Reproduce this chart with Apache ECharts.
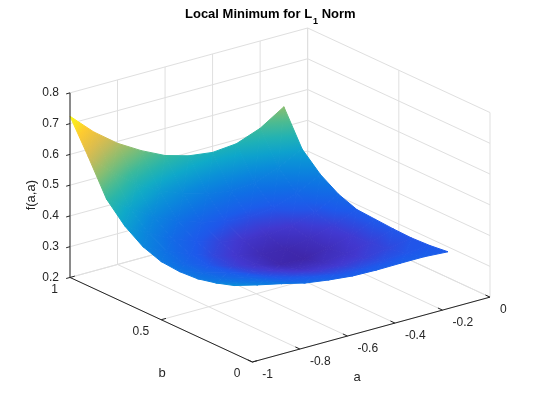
<!DOCTYPE html>
<html>
<head>
<meta charset="utf-8">
<script src="https://cdn.jsdelivr.net/npm/echarts@6.0.0/dist/echarts.min.js"></script>
<style>
html,body{margin:0;padding:0;background:#ffffff;}
#chart{width:540px;height:405px;}
</style>
</head>
<body>
<div id="chart"></div>
<script>
// ---------------- data ----------------
const aValues = [-1.0, -0.9, -0.8, -0.7, -0.6, -0.5, -0.4, -0.3, -0.2, -0.1];
const bValues = [0.1, 0.2, 0.3, 0.4, 0.5, 0.6, 0.7, 0.8, 0.9, 1.0];
// surface heights, one row per b value, columns follow aValues
const fAtB01 = [0.421, 0.402, 0.385, 0.366, 0.355, 0.347, 0.345, 0.346, 0.346, 0.341];
const fAtB02 = [0.402, 0.384, 0.368, 0.348, 0.336, 0.327, 0.325, 0.327, 0.331, 0.334];
const fAtB03 = [0.388, 0.369, 0.352, 0.332, 0.318, 0.307, 0.305, 0.309, 0.318, 0.331];
const fAtB04 = [0.384, 0.361, 0.340, 0.319, 0.303, 0.289, 0.287, 0.294, 0.309, 0.333];
const fAtB05 = [0.389, 0.360, 0.334, 0.312, 0.294, 0.275, 0.271, 0.285, 0.305, 0.337];
const fAtB06 = [0.410, 0.374, 0.343, 0.317, 0.298, 0.280, 0.276, 0.288, 0.310, 0.341];
const fAtB07 = [0.450, 0.405, 0.365, 0.337, 0.315, 0.298, 0.292, 0.302, 0.326, 0.363];
const fAtB08 = [0.510, 0.457, 0.410, 0.375, 0.350, 0.332, 0.325, 0.333, 0.360, 0.400];
const fAtB09 = [0.620, 0.550, 0.490, 0.445, 0.415, 0.393, 0.383, 0.388, 0.415, 0.455];
const fAtB10 = [0.724, 0.652, 0.594, 0.549, 0.512, 0.490, 0.480, 0.487, 0.516, 0.565];
const fRows = [fAtB01, fAtB02, fAtB03, fAtB04, fAtB05, fAtB06, fAtB07, fAtB08, fAtB09, fAtB10];

const aTicks = [-1, -0.8, -0.6, -0.4, -0.2, 0];
const aTickLabels = ['-1', '-0.8', '-0.6', '-0.4', '-0.2', '0'];
const bTicks = [0, 0.5, 1];
const bTickLabels = ['0', '0.5', '1'];
const zTicks = [0.2, 0.3, 0.4, 0.5, 0.6, 0.7, 0.8];
const zTickLabels = ['0.2', '0.3', '0.4', '0.5', '0.6', '0.7', '0.8'];
const titleMain = 'Local Minimum for L';
const titleSub = '1';
const titleEnd = ' Norm';
const aName = 'a';
const bName = 'b';
const zName = 'f(a,a)';

// ---------------- view (MATLAB default 3-D view) ----------------
const AZ = -37.5 * Math.PI / 180, EL = 30 * Math.PI / 180;
const aLim = [aTicks[0], aTicks[aTicks.length - 1]];
const bLim = [bTicks[0], bTicks[bTicks.length - 1]];
const zLim = [zTicks[0], zTicks[zTicks.length - 1]];
function nrm(v, l) { return (v - l[0]) / (l[1] - l[0]); }
function proj(a, b, z) {
  const x = nrm(a, aLim), y = nrm(b, bLim), w = nrm(z, zLim);
  return [Math.cos(AZ) * x + Math.sin(AZ) * y,
          -Math.sin(AZ) * Math.sin(EL) * x + Math.cos(AZ) * Math.sin(EL) * y + Math.cos(EL) * w];
}
function depth(a, b, z) {
  const x = nrm(a, aLim), y = nrm(b, bLim), w = nrm(z, zLim);
  return -Math.sin(AZ) * Math.cos(EL) * x + Math.cos(AZ) * Math.cos(EL) * y - Math.sin(EL) * w;
}
let Xmin = Infinity, Xmax = -Infinity, Ymin = Infinity, Ymax = -Infinity;
aLim.forEach(a => bLim.forEach(b => zLim.forEach(z => {
  const p = proj(a, b, z);
  Xmin = Math.min(Xmin, p[0]); Xmax = Math.max(Xmax, p[0]);
  Ymin = Math.min(Ymin, p[1]); Ymax = Math.max(Ymax, p[1]);
})));

// ---------------- colormap ----------------
const PARULA = [
  [0.000, 62, 38, 168], [0.070, 66, 56, 208], [0.140, 30, 88, 235], [0.230, 15, 112, 228],
  [0.330, 10, 140, 218], [0.430, 15, 170, 200], [0.530, 50, 185, 160], [0.640, 130, 190, 115],
  [0.760, 210, 186, 85], [0.880, 253, 200, 50], [1.000, 249, 250, 20]
];
function parula(t) {
  t = Math.max(0, Math.min(1, t));
  for (let k = 1; k < PARULA.length; k++) {
    if (t <= PARULA[k][0]) {
      const p = PARULA[k - 1], q = PARULA[k], u = (t - p[0]) / (q[0] - p[0]);
      return 'rgb(' + [1, 2, 3].map(c => Math.round(p[c] + (q[c] - p[c]) * u)).join(',') + ')';
    }
  }
  const l = PARULA[PARULA.length - 1];
  return 'rgb(' + l[1] + ',' + l[2] + ',' + l[3] + ')';
}
let fMin = Infinity, fMax = -Infinity;
fRows.forEach(r => r.forEach(v => { fMin = Math.min(fMin, v); fMax = Math.max(fMax, v); }));
function colorOf(v) { return parula((v - fMin) / (fMax - fMin)); }

// ---------------- surface triangles (painter's order) ----------------
const tris = [];
for (let j = 0; j < bValues.length - 1; j++) {
  for (let i = 0; i < aValues.length - 1; i++) {
    const c00 = [i, j], c10 = [i + 1, j], c11 = [i + 1, j + 1], c01 = [i, j + 1];
    [[c00, c10, c11], [c00, c11, c01]].forEach(t => {
      let d = 0, X = 0, Y = 0;
      t.forEach(([ii, jj]) => {
        const z = fRows[jj][ii];
        d += depth(aValues[ii], bValues[jj], z);
        const p = proj(aValues[ii], bValues[jj], z);
        X += p[0]; Y += p[1];
      });
      tris.push({ v: t, d: d / 3, X: X / 3, Y: Y / 3 });
    });
  }
}
tris.sort((p, q) => q.d - p.d);

function renderTri(params, api) {
  const t = tris[api.value(2)];
  const P = t.v.map(([ii, jj]) => api.coord(proj(aValues[ii], bValues[jj], fRows[jj][ii])));
  const V = t.v.map(([ii, jj]) => fRows[jj][ii]);
  const e1 = [P[1][0] - P[0][0], P[1][1] - P[0][1]];
  const e2 = [P[2][0] - P[0][0], P[2][1] - P[0][1]];
  const d1 = V[1] - V[0], d2 = V[2] - V[0];
  const det = e1[0] * e2[1] - e1[1] * e2[0];
  let fill;
  if (Math.abs(det) < 1e-6) {
    fill = colorOf((V[0] + V[1] + V[2]) / 3);
  } else {
    const gx = (e2[1] * d1 - e1[1] * d2) / det;
    const gy = (-e2[0] * d1 + e1[0] * d2) / det;
    const gm = Math.hypot(gx, gy);
    if (gm < 1e-9) {
      fill = colorOf(V[0]);
    } else {
      const n = [gx / gm, gy / gm];
      const s = P.map(p => n[0] * (p[0] - P[0][0]) + n[1] * (p[1] - P[0][1]));
      const smin = Math.min(...s), smax = Math.max(...s);
      const v0 = V[0] + gm * smin, v1 = V[0] + gm * smax;
      const stops = [];
      for (let k = 0; k <= 4; k++) {
        const u = k / 4;
        stops.push({ offset: u, color: colorOf(v0 + (v1 - v0) * u) });
      }
      fill = new echarts.graphic.LinearGradient(
        P[0][0] + n[0] * smin, P[0][1] + n[1] * smin,
        P[0][0] + n[0] * smax, P[0][1] + n[1] * smax, stops, true);
    }
  }
  return {
    type: 'polygon',
    shape: { points: P },
    style: { fill: fill, stroke: fill, lineWidth: 1, lineJoin: 'round' },
    silent: true
  };
}

// ---------------- axes frame ----------------
const FONT = "'Liberation Sans', Arial, Helvetica, sans-serif";
const TXT = '#262626';
const GRIDC = '#dfdfdf';
function seg(api, A, B, color, w) {
  const p = api.coord(proj(A[0], A[1], A[2])), q = api.coord(proj(B[0], B[1], B[2]));
  return { type: 'line', shape: { x1: p[0], y1: p[1], x2: q[0], y2: q[1] },
           style: { stroke: color, lineWidth: w }, silent: true };
}
function px(api, a, b, z) { return api.coord(proj(a, b, z)); }
function txt(x, y, s, align, opts) {
  opts = opts || {};
  return { type: 'text', x: x, y: y, rotation: opts.rot || 0, silent: true,
           style: { text: s, fill: opts.color || TXT, fontSize: opts.size || 12,
                    fontWeight: opts.weight || 'normal', fontFamily: FONT,
                    align: align, verticalAlign: opts.va || 'middle' } };
}

function renderGrid(params, api) {
  const ch = [];
  const [a0, a1] = aLim, [b0, b1] = bLim, [z0, z1] = zLim;
  aTicks.forEach(a => { ch.push(seg(api, [a, b0, z0], [a, b1, z0], GRIDC, 1)); ch.push(seg(api, [a, b1, z0], [a, b1, z1], GRIDC, 1)); });
  bTicks.forEach(b => { ch.push(seg(api, [a0, b, z0], [a1, b, z0], GRIDC, 1)); ch.push(seg(api, [a1, b, z0], [a1, b, z1], GRIDC, 1)); });
  zTicks.forEach(z => { ch.push(seg(api, [a0, b1, z], [a1, b1, z], GRIDC, 1)); ch.push(seg(api, [a1, b1, z], [a1, b0, z], GRIDC, 1)); });
  return { type: 'group', children: ch };
}

const mctx = document.createElement('canvas').getContext('2d');
function textWidth(s, font) { mctx.font = font; return mctx.measureText(s).width; }

function renderAxes(params, api) {
  const ch = [];
  const [a0, a1] = aLim, [b0, b1] = bLim, [z0, z1] = zLim;
  ch.push(seg(api, [a0, b0, z0], [a1, b0, z0], TXT, 1));
  ch.push(seg(api, [a0, b0, z0], [a0, b1, z0], TXT, 1));
  ch.push(seg(api, [a0, b1, z0], [a0, b1, z1], TXT, 1));
  function dir(P, Q) { const dx = Q[0] - P[0], dy = Q[1] - P[1], L = Math.hypot(dx, dy); return [dx / L, dy / L]; }
  const dB = dir(px(api, a0, b0, z0), px(api, a0, b1, z0));
  const dA = dir(px(api, a0, b0, z0), px(api, a1, b0, z0));
  const TL = 5;
  aTicks.forEach((a, k) => {
    const p = px(api, a, b0, z0);
    ch.push({ type: 'line', silent: true, shape: { x1: p[0], y1: p[1], x2: p[0] + dB[0] * TL, y2: p[1] + dB[1] * TL }, style: { stroke: TXT, lineWidth: 1 } });
    ch.push(txt(p[0] + 10, p[1] + 13, aTickLabels[k], 'left'));
  });
  bTicks.forEach((b, k) => {
    const p = px(api, a0, b, z0);
    ch.push({ type: 'line', silent: true, shape: { x1: p[0], y1: p[1], x2: p[0] + dA[0] * TL, y2: p[1] + dA[1] * TL }, style: { stroke: TXT, lineWidth: 1 } });
    ch.push(txt(p[0] - 12, p[1] + 12, bTickLabels[k], 'right'));
  });
  zTicks.forEach((z, k) => {
    const p = px(api, a0, b1, z);
    ch.push({ type: 'line', silent: true, shape: { x1: p[0], y1: p[1], x2: p[0] - dA[0] * 4, y2: p[1] - dA[1] * 4 }, style: { stroke: TXT, lineWidth: 1 } });
    ch.push(txt(p[0] - 11, p[1], zTickLabels[k], 'right'));
  });
  const am = px(api, (a0 + a1) / 2, b0, z0);
  ch.push(txt(am[0] - 14, am[1] + 48, aName, 'center', { size: 13 }));
  const bm = px(api, a0, (b0 + b1) / 2, z0);
  ch.push(txt(bm[0] + 1, bm[1] + 54, bName, 'center', { size: 13 }));
  const zm = px(api, a0, b1, (z0 + z1) / 2);
  ch.push(txt(zm[0] - 39, zm[1] + 10, zName, 'center', { size: 13, rot: Math.PI / 2 }));
  // title with subscript
  const fMain = 'bold 13px ' + FONT, fSub = 'bold 9px ' + FONT;
  const wMain = textWidth(titleMain, fMain), wSub = textWidth(titleSub, fSub);
  const x0 = 185;
  ch.push(txt(x0, 14, titleMain, 'left', { size: 13, weight: 'bold', color: '#000' }));
  ch.push(txt(x0 + wMain + 1, 22, titleSub, 'left', { size: 9, weight: 'bold', color: '#000' }));
  ch.push(txt(x0 + wMain + 1 + wSub, 14, titleEnd, 'left', { size: 13, weight: 'bold', color: '#000' }));
  return { type: 'group', children: ch };
}

// ---------------- chart ----------------
const chart = echarts.init(document.getElementById('chart'), null, { renderer: 'canvas', width: 540, height: 405 });
chart.setOption({
  animation: false,
  backgroundColor: '#ffffff',
  grid: { left: 70, right: 50, top: 28, bottom: 43 },
  xAxis: { type: 'value', min: Xmin, max: Xmax, show: false },
  yAxis: { type: 'value', min: Ymin, max: Ymax, show: false },
  series: [
    { type: 'custom', coordinateSystem: 'cartesian2d', z: 1, silent: true,
      data: [[Xmin, Ymin]], renderItem: renderGrid },
    { type: 'custom', coordinateSystem: 'cartesian2d', z: 2, silent: true,
      encode: { x: 0, y: 1 },
      data: tris.map((t, k) => [t.X, t.Y, k]), renderItem: renderTri },
    { type: 'custom', coordinateSystem: 'cartesian2d', z: 3, silent: true,
      data: [[Xmin, Ymin]], renderItem: renderAxes }
  ]
});
</script>
</body>
</html>
